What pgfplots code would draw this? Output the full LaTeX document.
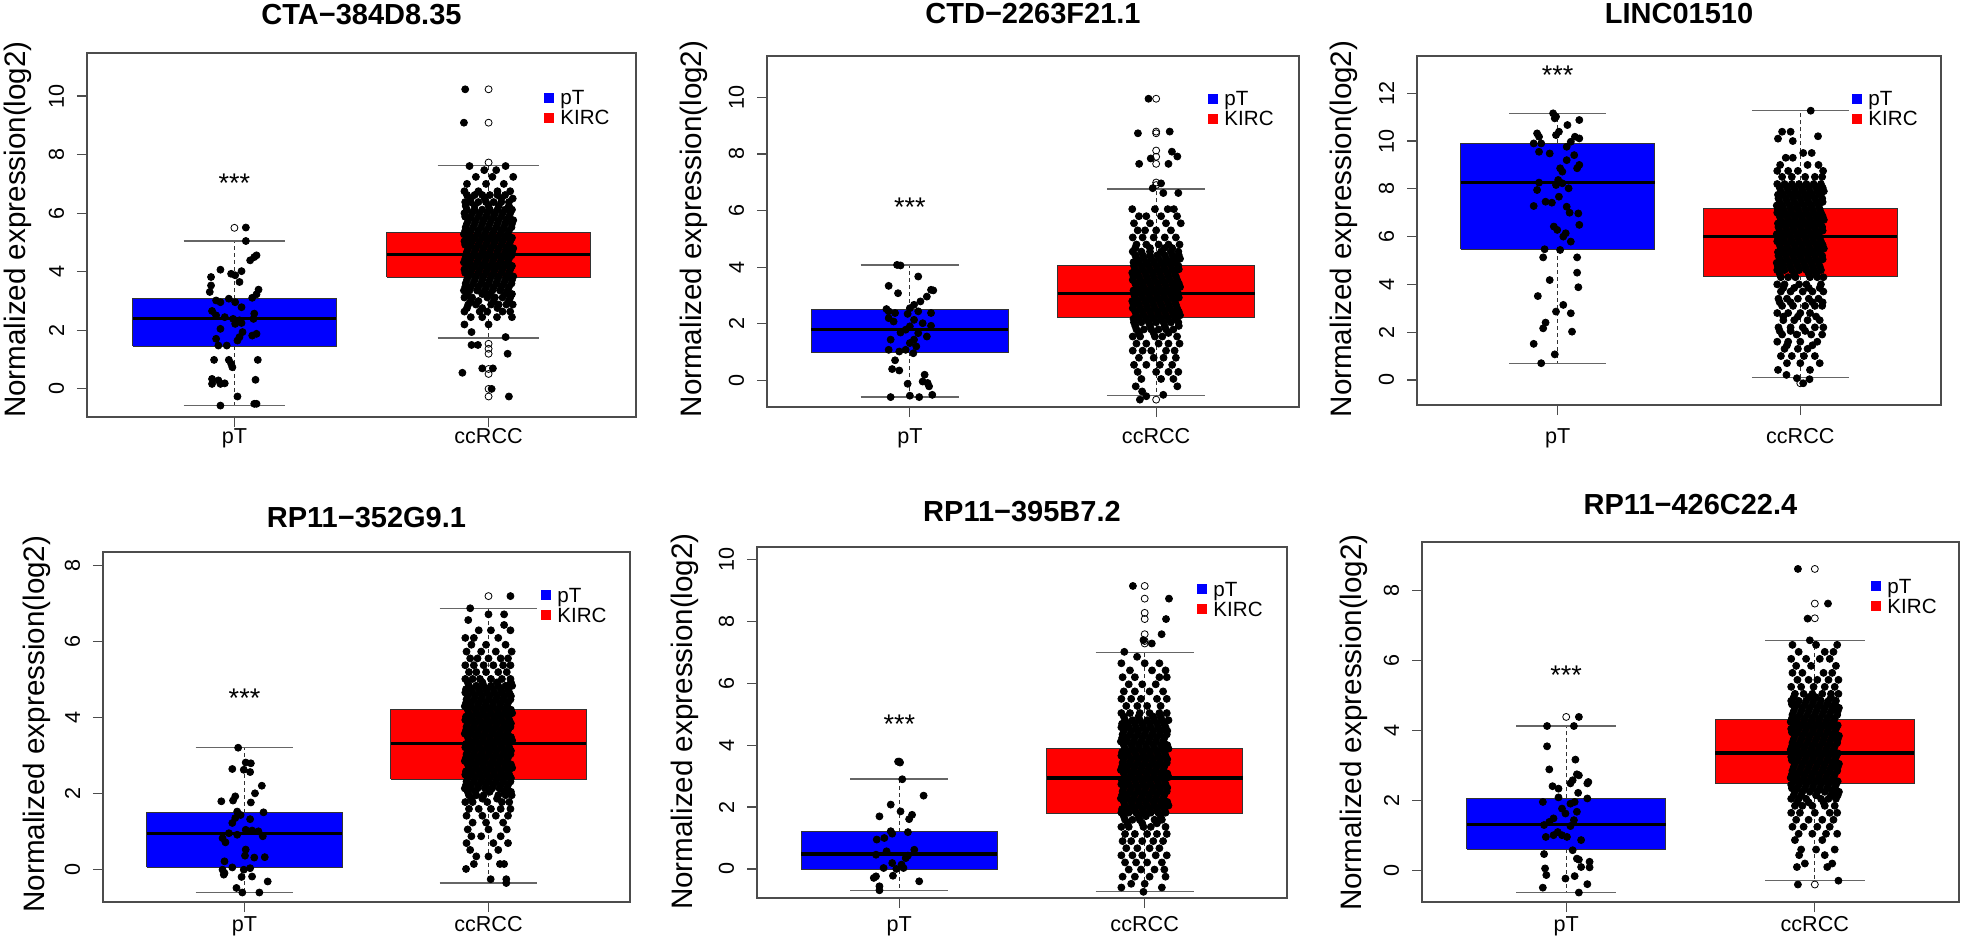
\documentclass[border=0pt]{standalone}
\usepackage{pgfplots}
\pgfplotsset{compat=1.18}
\usepackage{pgfplotstable}
\usepackage{fontspec}
\setmainfont{Liberation Sans}

\newcommand{\tickfont}{\fontsize{10.8}{13}\selectfont}
\newcommand{\legfont}{\fontsize{10.3}{12}\selectfont}
\newcommand{\titfont}{\fontsize{14.5}{17}\selectfont\bfseries}
\newcommand{\labfont}{\fontsize{14.8}{17}\selectfont}
\newcommand{\starfont}{\fontsize{13.5}{16}\selectfont}

\pgfplotsset{
  panel/.style={
    scale only axis, anchor=south west, xmin=0.42, xmax=2.58,
    xtick={1,2}, xticklabels={pT,ccRCC},
    axis line style={draw=black!70, line width=0.6pt},
    every tick/.style={black!70, line width=0.6pt},
    tick align=outside, major tick length=5pt,
    xtick pos=left, ytick pos=left,
    ticklabel style={font=\tickfont},
    /pgf/number format/assume math mode=true,
    yticklabel style={xshift=-6.25pt, inner sep=0pt, rotate=90, anchor=south},
    xticklabel style={inner sep=0pt, anchor=base},
  },
  whisk/.style={black!80, line width=0.5pt, dash pattern=on 2pt off 1.5pt},
  staple/.style={black!60, line width=0.6pt},
  boxst/.style={draw=black!80, line width=0.5pt},
  medst/.style={black, line width=1.6pt},
  dot/.style={only marks, mark=*, mark size=1.75pt, draw=black, fill=black},
  odot/.style={only marks, mark=o, mark size=1.75pt, black, mark options={line width=0.4pt}},
}

\newcommand{\bxpT}[5]{%
  \addplot[whisk] coordinates {(1,#2) (1,#1)};
  \addplot[whisk] coordinates {(1,#4) (1,#5)};
  \addplot[staple] coordinates {(0.8,#1) (1.2,#1)};
  \addplot[staple] coordinates {(0.8,#5) (1.2,#5)};
  \addplot[boxst, fill=blue] coordinates {(0.6,#2) (1.4,#2) (1.4,#4) (0.6,#4) (0.6,#2)};
  \addplot[medst] coordinates {(0.6,#3) (1.4,#3)};
}
\newcommand{\bxcc}[5]{%
  \addplot[whisk] coordinates {(2,#2) (2,#1)};
  \addplot[whisk] coordinates {(2,#4) (2,#5)};
  \addplot[staple] coordinates {(1.8,#1) (2.2,#1)};
  \addplot[staple] coordinates {(1.8,#5) (2.2,#5)};
  \addplot[boxst, fill=red] coordinates {(1.6,#2) (2.4,#2) (2.4,#4) (1.6,#4) (1.6,#2)};
  \addplot[medst] coordinates {(1.6,#3) (2.4,#3)};
}
\newcommand{\jit}[1]{%
  \pgfplotsinvokeforeach{a,b,c,d,e,f,g}{\addplot[dot] table[x=##1,y=y] {#1};}%
}
\newcommand{\mylegend}[3]{%
  \pgfmathsetmacro{\lx}{(#1-4.75)/2}\pgfmathsetmacro{\lya}{(939-#2-4.75)/2}\pgfmathsetmacro{\lyb}{(939-#3-4.75)/2}%
  \fill[blue] (\lx pt,\lya pt) rectangle ++(4.75pt,4.75pt);
  \fill[red] (\lx pt,\lyb pt) rectangle ++(4.75pt,4.75pt);
  \pgfmathsetmacro{\tx}{(#1+11)/2}\pgfmathsetmacro{\tya}{(939-#2-7)/2}\pgfmathsetmacro{\tyb}{(939-#3-7)/2}%
  \node[anchor=base west, inner sep=0pt, font=\legfont] at (\tx pt,\tya pt) {pT};
  \node[anchor=base west, inner sep=0pt, font=\legfont] at (\tx pt,\tyb pt) {KIRC};
}
\newcommand{\mytitle}[3]{%
  \pgfmathsetmacro{\tx}{#1/2}\pgfmathsetmacro{\ty}{(939-#2-10.4)/2}%
  \node[anchor=base, inner sep=0pt, font=\titfont] at (\tx pt,\ty pt) {#3};
}
\newcommand{\mylabel}[2]{%
  \pgfmathsetmacro{\tx}{#1/2}\pgfmathsetmacro{\ty}{(939-#2)/2}%
  \node[anchor=center, inner sep=0pt, rotate=90, font=\labfont] at (\tx pt,\ty pt) {Normalized expression(log2)};
}

% ---------------- data ----------------
\pgfplotstableread{
x y
1.045 5.51
1.045 5.05
1.087 4.56
1.078 4.50
1.062 4.39
0.945 4.07
1.028 4.02
0.987 3.93
1.003 3.88
0.908 3.82
1.02 3.65
0.908 3.53
1.095 3.39
0.903 3.31
1.087 3.23
0.978 3.08
1.07 3.11
0.928 3.02
0.945 2.96
1.003 2.96
0.912 2.66
1.028 2.79
1.078 2.57
0.928 2.51
0.962 2.45
0.995 2.39
1.075 2.39
1.02 2.34
1.028 2.25
1.003 2.22
0.945 2.05
1.032 1.94
1.02 1.77
1.087 1.88
1.07 1.82
0.928 1.71
1.012 1.65
0.937 1.48
0.97 1.48
0.92 0.99
0.978 0.99
1.092 0.99
0.987 0.86
0.992 0.74
0.912 0.34
0.937 0.29
0.945 0.17
0.962 0.19
0.912 0.17
1.083 0.31
1.012 -0.26
0.945 -0.57
1.078 -0.51
1.087 -0.51
}\pTA
\pgfplotstableread{
y a b c d e f g
10.23 1.908 nan nan nan nan nan nan
9.09 1.903 nan nan nan nan nan nan
7.61 1.925 2.067 nan nan nan nan nan
7.47 1.983 2.03 nan nan nan nan nan
7.24 1.95 2.015 2.097 nan nan nan nan
7.0 1.915 1.99 2.06 nan nan nan nan
6.75 1.905 1.96 2.035 2.085 nan nan nan
6.5 1.93 1.985 2.05 2.095 nan nan nan
6.25 1.91 1.945 2.0 2.04 2.08 nan nan
6.0 1.905 1.935 1.965 1.995 2.025 2.055 2.085
5.76 1.92 1.95 1.98 2.01 2.04 2.07 2.097
5.52 1.91 1.94 1.97 2.0 2.03 2.06 2.09
5.28 1.903 1.925 1.955 1.985 2.015 2.045 2.075
5.04 1.905 1.935 1.965 1.995 2.025 2.055 2.085
4.8 1.92 1.95 1.98 2.01 2.04 2.07 2.097
4.56 1.91 1.94 1.97 2.0 2.03 2.06 2.09
4.32 1.903 1.925 1.955 1.985 2.015 2.045 2.075
4.08 1.905 1.935 1.965 1.995 2.025 2.055 2.085
3.84 1.92 1.95 1.98 2.01 2.04 2.07 2.097
3.6 1.91 1.94 1.97 2.0 2.03 2.06 2.09
3.36 1.903 1.925 1.955 1.985 2.015 2.045 2.075
3.12 1.905 1.935 1.995 2.025 2.055 2.085 nan
2.88 1.92 1.95 2.01 2.04 2.07 2.095 nan
2.64 1.905 1.965 1.995 2.055 2.085 nan nan
2.45 1.93 1.975 2.033 2.092 nan nan nan
2.2 1.905 2.0 nan nan nan nan nan
1.94 1.933 nan nan nan nan nan nan
1.77 2.067 nan nan nan nan nan nan
1.5 1.933 1.958 nan nan nan nan nan
1.2 2.075 nan nan nan nan nan nan
0.7 1.975 2.017 nan nan nan nan nan
0.55 1.897 nan nan nan nan nan nan
0.0 2.012 nan nan nan nan nan nan
-0.26 2.08 nan nan nan nan nan nan
6.62 1.915 1.945 1.975 2.005 2.035 2.065 nan
6.38 1.908 1.93 1.96 1.99 2.02 2.05 2.08
6.12 1.915 1.945 1.975 2.005 2.035 2.065 2.092
5.88 1.908 1.93 1.96 1.99 2.02 2.05 2.08
5.64 1.915 1.945 1.975 2.005 2.035 2.065 2.092
5.4 1.908 1.93 1.96 1.99 2.02 2.05 2.08
5.16 1.915 1.945 1.975 2.005 2.035 2.065 2.092
4.92 1.908 1.93 1.96 1.99 2.02 2.05 2.08
4.68 1.915 1.945 1.975 2.005 2.035 2.065 2.092
4.44 1.908 1.93 1.96 1.99 2.02 2.05 2.08
4.2 1.915 1.945 1.975 2.005 2.035 2.065 2.092
3.96 1.908 1.93 1.96 1.99 2.02 2.05 2.08
3.72 1.915 1.945 1.975 2.005 2.035 2.065 2.092
3.48 1.908 1.93 1.96 1.99 2.02 2.05 2.08
3.24 1.915 1.975 2.005 2.065 2.092 nan nan
3.0 1.93 1.96 2.02 2.08 nan nan nan
2.76 1.915 1.975 2.035 nan nan nan nan
}\ccA

\pgfplotstableread{
x y
0.948 4.08
0.962 4.06
1.034 3.67
0.914 3.34
0.952 3.08
1.086 3.2
1.095 3.18
1.069 2.96
1.043 2.79
1.017 2.67
1.0 2.55
0.905 2.52
0.914 2.44
0.94 2.38
0.991 2.35
1.034 2.44
1.086 2.38
0.914 2.2
0.934 2.08
1.017 2.14
1.052 2.02
1.0 1.91
1.086 1.93
0.962 1.69
0.983 1.79
1.034 1.67
1.069 1.55
0.922 1.44
1.017 1.44
1.0 1.32
1.026 1.2
0.914 1.08
0.957 1.02
0.983 1.08
1.014 0.96
0.94 0.71
0.928 0.4
0.957 0.35
1.06 0.2
1.052 -0.04
1.072 -0.09
1.078 -0.21
0.991 -0.12
0.922 -0.59
1.0 -0.54
1.038 -0.59
1.091 -0.51
}\pTB
\pgfplotstableread{
y a b c d e f g
9.95 1.969 nan nan nan nan nan nan
8.79 2.055 nan nan nan nan nan nan
8.73 1.926 nan nan nan nan nan nan
8.08 2.064 nan nan nan nan nan nan
7.91 2.086 nan nan nan nan nan nan
7.84 1.978 nan nan nan nan nan nan
7.65 1.931 2.05 nan nan nan nan nan
6.96 2.02 nan nan nan nan nan nan
6.79 1.986 nan nan nan nan nan nan
6.62 2.029 2.09 nan nan nan nan nan
6.05 1.903 1.995 2.047 2.072 nan nan nan
5.8 1.93 1.96 2.02 2.085 nan nan nan
5.55 1.91 1.975 2.04 2.1 nan nan nan
5.3 1.925 1.955 2.0 2.06 nan nan nan
5.05 1.905 1.945 1.99 2.035 2.08 nan nan
4.8 1.92 1.96 2.01 2.05 2.095 nan nan
4.55 1.905 1.94 1.975 2.02 2.06 2.09 nan
4.3 1.92 1.95 1.98 2.01 2.04 2.07 2.097
4.05 1.91 1.94 1.97 2.0 2.03 2.06 2.09
3.8 1.903 1.925 1.955 1.985 2.015 2.045 2.075
3.55 1.905 1.935 1.965 1.995 2.025 2.055 2.085
3.3 1.92 1.95 1.98 2.01 2.04 2.07 2.097
3.05 1.91 1.94 1.97 2.0 2.03 2.06 2.09
2.8 1.903 1.925 1.955 1.985 2.015 2.045 2.075
2.55 1.905 1.935 1.965 1.995 2.025 2.055 2.085
2.3 1.92 1.95 1.98 2.01 2.04 2.07 2.097
2.05 1.91 1.94 1.97 2.0 2.03 2.06 2.09
1.8 1.92 1.95 1.98 2.01 2.04 2.07 nan
1.55 1.905 1.935 1.995 2.025 2.085 nan nan
1.3 1.92 1.96 2.01 2.05 2.095 nan nan
1.05 1.905 1.945 1.98 2.04 2.075 nan nan
0.8 1.93 1.99 2.03 2.08 nan nan nan
0.55 1.91 1.96 2.015 2.065 nan nan nan
0.3 1.925 2.0 2.05 2.09 nan nan nan
0.05 1.94 2.02 2.07 nan nan nan nan
-0.21 1.917 2.086 nan nan nan nan nan
-0.39 1.943 nan nan nan nan nan nan
-0.51 2.029 nan nan nan nan nan nan
-0.56 1.96 nan nan nan nan nan nan
-0.68 1.934 nan nan nan nan nan nan
4.675 1.915 1.975 2.035 2.065 nan nan nan
4.425 1.915 1.945 1.975 2.005 2.035 2.065 2.092
4.175 1.908 1.93 1.96 1.99 2.02 2.05 2.08
3.925 1.915 1.945 1.975 2.005 2.035 2.065 2.092
3.675 1.908 1.93 1.96 1.99 2.02 2.05 2.08
3.425 1.915 1.945 1.975 2.005 2.035 2.065 2.092
3.175 1.908 1.93 1.96 1.99 2.02 2.05 2.08
2.925 1.915 1.945 1.975 2.005 2.035 2.065 2.092
2.675 1.908 1.93 1.96 1.99 2.02 2.05 2.08
2.425 1.915 1.945 1.975 2.005 2.035 2.065 2.092
2.175 1.908 1.93 1.96 1.99 2.02 2.05 2.08
1.925 1.915 1.975 2.035 2.092 nan nan nan
1.675 1.93 1.99 2.05 nan nan nan nan
}\ccB

\pgfplotstableread{
x y
0.981 11.16
0.993 11.02
0.988 10.95
1.089 10.88
1.04 10.67
1.005 10.39
0.993 10.25
0.915 10.32
0.923 10.18
1.071 10.18
1.089 10.11
1.054 9.97
0.932 9.9
0.901 9.9
1.037 9.76
0.923 9.55
0.967 9.48
1.068 9.41
1.037 9.2
1.089 9.0
1.08 8.86
1.01 8.86
1.019 8.72
1.002 8.37
1.019 8.23
0.993 8.16
0.923 8.26
0.915 7.95
1.045 8.02
1.005 7.67
0.95 7.46
0.976 7.42
0.901 7.28
1.037 7.25
1.049 7.0
1.085 6.97
1.089 6.49
0.984 6.42
0.998 6.28
1.033 6.14
1.023 6.0
1.054 5.79
0.946 5.47
1.01 5.44
0.94 5.13
1.08 5.13
1.08 4.49
0.967 4.18
1.085 3.88
0.918 3.51
1.023 3.14
0.993 2.86
1.054 2.79
0.95 2.4
0.94 2.16
1.059 2.02
0.901 1.51
0.988 1.07
0.932 0.7
}\pTC
\pgfplotstableread{
y a b c d e f g
11.27 2.043 nan nan nan nan nan nan
10.39 1.925 1.96 nan nan nan nan nan
10.2 2.073 nan nan nan nan nan nan
10.1 1.908 nan nan nan nan nan nan
10.0 1.969 nan nan nan nan nan nan
9.5 2.012 2.047 nan nan nan nan nan
9.3 1.94 1.969 nan nan nan nan nan
9.0 1.917 2.03 2.075 nan nan nan nan
8.75 1.905 1.95 1.99 2.094 nan nan nan
8.5 1.925 1.965 2.02 2.06 2.09 nan nan
8.2 1.905 1.935 1.965 1.995 2.025 2.055 2.085
7.9 1.92 1.95 1.98 2.01 2.04 2.07 2.097
7.6 1.91 1.94 1.97 2.0 2.03 2.06 2.09
7.3 1.903 1.925 1.955 1.985 2.015 2.045 2.075
7.0 1.905 1.935 1.965 1.995 2.025 2.055 2.085
6.7 1.92 1.95 1.98 2.01 2.04 2.07 2.097
6.4 1.91 1.94 1.97 2.0 2.03 2.06 2.09
6.1 1.903 1.925 1.955 1.985 2.015 2.045 2.075
5.8 1.905 1.935 1.965 1.995 2.025 2.055 2.085
5.5 1.92 1.95 1.98 2.01 2.04 2.07 2.097
5.2 1.91 1.94 1.97 2.0 2.03 2.06 2.09
4.9 1.903 1.925 1.955 1.985 2.015 2.045 2.075
4.6 1.905 1.935 1.965 1.995 2.025 2.055 2.085
4.3 1.92 1.95 1.98 2.04 2.07 2.095 nan
4.0 1.905 1.935 1.995 2.025 2.085 nan nan
3.7 1.92 1.96 2.01 2.05 2.095 nan nan
3.4 1.91 1.945 1.99 2.035 2.075 nan nan
3.1 1.925 1.97 2.02 2.06 2.09 nan nan
2.8 1.905 1.95 2.0 2.04 nan nan nan
2.5 1.93 1.975 2.03 2.08 nan nan nan
2.2 1.91 1.96 2.01 2.06 2.095 nan nan
1.9 1.925 1.985 2.045 2.09 nan nan nan
1.6 1.905 1.95 2.0 2.07 nan nan nan
1.3 1.935 1.99 2.03 nan nan nan nan
1.0 1.92 1.965 2.015 2.06 nan nan nan
0.7 1.945 2.0 2.08 nan nan nan nan
0.42 1.908 2.04 nan nan nan nan nan
0.21 1.943 nan nan nan nan nan nan
0.07 1.986 nan nan nan nan nan nan
0.03 2.038 nan nan nan nan nan nan
-0.14 2.012 nan nan nan nan nan nan
8.05 1.915 1.945 1.975 2.005 2.035 2.065 2.092
7.75 1.908 1.93 1.96 1.99 2.02 2.05 2.08
7.45 1.915 1.945 1.975 2.005 2.035 2.065 2.092
7.15 1.908 1.93 1.96 1.99 2.02 2.05 2.08
6.85 1.915 1.945 1.975 2.005 2.035 2.065 2.092
6.55 1.908 1.93 1.96 1.99 2.02 2.05 2.08
6.25 1.915 1.945 1.975 2.005 2.035 2.065 2.092
5.95 1.908 1.93 1.96 1.99 2.02 2.05 2.08
5.65 1.915 1.945 1.975 2.005 2.035 2.065 2.092
5.35 1.908 1.93 1.96 1.99 2.02 2.05 2.08
5.05 1.915 1.945 1.975 2.005 2.035 2.065 2.092
4.75 1.908 1.93 1.96 1.99 2.02 2.05 2.08
4.45 1.915 1.975 2.035 2.065 nan nan nan
3.85 1.93 1.975 2.035 2.08 nan nan nan
3.25 1.915 1.96 2.05 2.092 nan nan nan
2.65 1.93 1.99 2.065 nan nan nan nan
2.05 1.915 1.96 2.02 nan nan nan nan
1.45 1.945 2.05 nan nan nan nan nan
}\ccC

\pgfplotstableread{
x y
0.974 3.21
1.005 2.82
1.026 2.8
0.95 2.65
0.997 2.63
1.023 2.57
1.071 2.21
1.043 2.01
0.962 1.93
0.953 1.82
0.905 1.8
1.026 1.77
1.078 1.51
0.97 1.53
0.984 1.44
0.962 1.36
1.023 1.33
0.95 1.23
1.005 1.05
1.031 1.03
0.936 0.96
0.97 0.92
1.057 1.01
1.075 0.88
0.91 0.83
0.922 0.72
1.005 0.53
1.002 0.37
1.083 0.33
1.04 0.32
0.918 0.22
0.95 0.06
0.91 0.0
0.918 -0.09
0.915 -0.13
1.023 0.04
0.997 0.0
1.031 -0.18
0.988 -0.19
1.095 -0.31
0.967 -0.48
0.991 -0.6
1.061 -0.6
}\pTD
\pgfplotstableread{
y a b c d e f g
7.2 2.09 nan nan nan nan nan nan
6.88 1.925 nan nan nan nan nan nan
6.72 2.0 2.064 nan nan nan nan nan
6.57 1.917 nan nan nan nan nan nan
6.44 2.064 nan nan nan nan nan nan
6.3 1.96 2.01 2.09 nan nan nan nan
6.1 1.905 1.94 2.04 nan nan nan nan
5.92 1.93 1.99 2.07 nan nan nan nan
5.74 1.91 1.97 2.03 2.095 nan nan nan
5.56 1.925 1.955 2.0 2.05 2.08 nan nan
5.38 1.905 1.94 1.98 2.02 2.06 2.09 nan
5.2 1.92 1.95 1.99 2.04 2.075 nan nan
5.02 1.905 1.935 1.965 2.01 2.055 2.09 nan
4.84 1.92 1.95 1.98 2.01 2.04 2.07 2.097
4.66 1.905 1.935 1.965 1.995 2.025 2.055 2.085
4.48 1.91 1.94 1.97 2.0 2.03 2.06 2.09
4.3 1.903 1.925 1.955 1.985 2.015 2.045 2.075
4.12 1.92 1.95 1.98 2.01 2.04 2.07 2.097
3.94 1.905 1.935 1.965 1.995 2.025 2.055 2.085
3.76 1.91 1.94 1.97 2.0 2.03 2.06 2.09
3.58 1.903 1.925 1.955 1.985 2.015 2.045 2.075
3.4 1.92 1.95 1.98 2.01 2.04 2.07 2.097
3.22 1.905 1.935 1.965 1.995 2.025 2.055 2.085
3.04 1.91 1.94 1.97 2.0 2.03 2.06 2.09
2.86 1.903 1.925 1.955 1.985 2.015 2.045 2.075
2.68 1.92 1.95 1.98 2.01 2.04 2.07 2.097
2.5 1.905 1.935 1.965 1.995 2.025 2.055 2.085
2.32 1.91 1.94 1.97 2.0 2.03 2.06 2.09
2.14 1.903 1.925 1.955 1.985 2.015 2.045 2.075
1.96 1.92 1.95 1.98 2.04 2.07 2.095 nan
1.78 1.905 1.935 1.995 2.055 2.085 nan nan
1.6 1.92 1.96 2.01 2.05 2.09 nan nan
1.42 1.91 1.975 2.03 2.08 nan nan nan
1.24 1.935 1.99 2.06 nan nan nan nan
1.06 1.915 2.0 2.075 nan nan nan nan
0.88 1.93 1.97 2.05 nan nan nan nan
0.7 1.91 2.02 2.08 nan nan nan nan
0.52 1.925 2.04 nan nan nan nan nan
0.35 1.95 2.0 nan nan nan nan nan
0.15 1.94 2.047 2.064 nan nan nan nan
0.02 1.908 nan nan nan nan nan nan
-0.25 2.009 2.073 nan nan nan nan nan
-0.35 2.073 nan nan nan nan nan nan
4.93 1.915 1.975 2.035 2.092 nan nan nan
4.75 1.908 1.93 1.96 1.99 2.02 2.05 2.08
4.57 1.915 1.945 1.975 2.005 2.035 2.065 2.092
4.39 1.908 1.93 1.96 1.99 2.02 2.05 2.08
4.21 1.915 1.945 1.975 2.005 2.035 2.065 2.092
4.03 1.908 1.93 1.96 1.99 2.02 2.05 2.08
3.85 1.915 1.945 1.975 2.005 2.035 2.065 2.092
3.67 1.908 1.93 1.96 1.99 2.02 2.05 2.08
3.49 1.915 1.945 1.975 2.005 2.035 2.065 2.092
3.31 1.908 1.93 1.96 1.99 2.02 2.05 2.08
3.13 1.915 1.945 1.975 2.005 2.035 2.065 2.092
2.95 1.908 1.93 1.96 1.99 2.02 2.05 2.08
2.77 1.915 1.945 1.975 2.005 2.035 2.065 2.092
2.59 1.908 1.93 1.96 1.99 2.02 2.05 2.08
2.41 1.915 1.945 1.975 2.005 2.035 2.065 2.092
2.23 1.908 1.93 1.96 1.99 2.02 2.05 2.08
2.05 1.915 1.945 2.005 2.065 2.092 nan nan
1.87 1.93 1.975 2.035 nan nan nan nan
}\ccD

\pgfplotstableread{
x y
0.995 3.47
1.003 3.44
1.012 2.9
1.099 2.37
0.965 2.08
1.005 1.86
1.052 1.75
1.04 1.61
0.919 1.7
0.965 1.22
0.971 1.14
1.035 1.19
0.939 1.0
0.908 0.95
0.948 0.57
1.061 0.62
0.905 0.46
1.035 0.43
1.026 0.35
0.971 0.19
1.009 0.14
0.936 0.03
0.988 0.0
1.017 0.03
0.905 -0.24
0.896 -0.29
0.974 -0.22
1.081 -0.4
0.919 -0.56
0.919 -0.69
}\pTE
\pgfplotstableread{
y a b c d e f g
9.15 1.952 nan nan nan nan nan nan
8.74 2.099 nan nan nan nan nan nan
8.08 2.087 nan nan nan nan nan nan
7.59 2.069 nan nan nan nan nan nan
7.4 1.995 nan nan nan nan nan nan
7.29 2.029 nan nan nan nan nan nan
7.02 1.917 nan nan nan nan nan nan
6.86 1.969 nan nan nan nan nan nan
6.65 1.905 2.0 2.06 nan nan nan nan
6.42 1.94 2.03 2.085 nan nan nan nan
6.2 1.91 1.96 2.06 2.09 nan nan nan
5.97 1.935 1.99 2.045 nan nan nan nan
5.74 1.915 1.96 2.02 2.075 nan nan nan
5.5 1.905 1.945 1.985 2.05 2.09 nan nan
5.27 1.925 1.97 2.01 2.065 nan nan nan
5.04 1.905 1.94 1.98 2.02 2.06 2.09 nan
4.81 1.92 1.95 1.98 2.01 2.04 2.07 2.097
4.58 1.905 1.935 1.965 1.995 2.025 2.055 2.085
4.35 1.91 1.94 1.97 2.0 2.03 2.06 2.09
4.12 1.903 1.925 1.955 1.985 2.015 2.045 2.075
3.89 1.92 1.95 1.98 2.01 2.04 2.07 2.097
3.66 1.905 1.935 1.965 1.995 2.025 2.055 2.085
3.43 1.91 1.94 1.97 2.0 2.03 2.06 2.09
3.2 1.903 1.925 1.955 1.985 2.015 2.045 2.075
2.97 1.92 1.95 1.98 2.01 2.04 2.07 2.097
2.74 1.905 1.935 1.965 1.995 2.025 2.055 2.085
2.51 1.91 1.94 1.97 2.0 2.03 2.06 2.09
2.28 1.903 1.925 1.955 1.985 2.015 2.045 2.075
2.05 1.92 1.95 1.98 2.01 2.04 2.07 2.097
1.82 1.905 1.935 1.965 1.995 2.025 2.055 2.085
1.59 1.92 1.95 1.98 2.04 2.07 nan nan
1.36 1.905 1.935 1.995 2.025 2.085 nan nan
1.13 1.92 1.96 2.01 2.05 2.09 nan nan
0.9 1.91 1.945 1.99 2.035 2.075 nan nan
0.67 1.925 1.97 2.02 2.06 nan nan nan
0.44 1.905 1.95 1.99 2.045 2.09 nan nan
0.21 1.92 1.965 2.01 2.07 nan nan nan
-0.02 1.935 1.985 2.04 2.08 nan nan nan
-0.25 1.91 1.96 2.02 2.085 nan nan nan
-0.48 1.945 2.0 nan nan nan nan nan
-0.6 1.905 2.07 nan nan nan nan nan
-0.74 1.995 nan nan nan nan nan nan
4.925 1.915 1.975 2.035 2.065 nan nan nan
4.695 1.908 1.93 1.96 1.99 2.02 2.05 2.08
4.465 1.915 1.945 1.975 2.005 2.035 2.065 2.092
4.235 1.908 1.93 1.96 1.99 2.02 2.05 2.08
4.005 1.915 1.945 1.975 2.005 2.035 2.065 2.092
3.775 1.908 1.93 1.96 1.99 2.02 2.05 2.08
3.545 1.915 1.945 1.975 2.005 2.035 2.065 2.092
3.315 1.908 1.93 1.96 1.99 2.02 2.05 2.08
3.085 1.915 1.945 1.975 2.005 2.035 2.065 2.092
2.855 1.908 1.93 1.96 1.99 2.02 2.05 2.08
2.625 1.915 1.945 1.975 2.005 2.035 2.065 2.092
2.395 1.908 1.93 1.96 1.99 2.02 2.05 2.08
2.165 1.915 1.945 1.975 2.005 2.035 2.065 2.092
1.935 1.908 1.93 1.96 1.99 2.02 2.05 2.08
1.705 1.915 1.975 2.005 2.065 nan nan nan
1.475 1.93 1.99 2.05 nan nan nan nan
}\ccE

\pgfplotstableread{
x y
1.051 4.39
0.923 4.13
1.031 4.13
0.923 3.55
1.037 3.17
0.932 2.89
1.043 2.75
1.051 2.72
1.089 2.53
1.085 2.49
1.026 2.58
1.017 2.49
0.945 2.41
0.969 2.34
1.048 2.22
0.906 1.96
0.969 2.09
1.034 1.96
1.085 2.06
1.017 1.91
0.983 1.77
0.997 1.63
1.043 1.68
0.949 1.49
0.932 1.39
1.031 1.44
1.017 1.27
0.911 1.3
0.966 1.1
0.949 1.01
0.918 0.96
0.983 1.01
1.003 0.96
1.06 0.87
1.026 0.58
0.911 0.47
1.043 0.34
1.051 0.31
1.094 0.25
0.915 0.06
1.06 0.1
1.094 0.09
0.92 -0.13
1.034 -0.16
0.997 -0.23
1.085 -0.39
0.906 -0.49
1.051 -0.63
}\pTF
\pgfplotstableread{
y a b c d e f g
8.62 1.932 nan nan nan nan nan nan
7.63 2.053 nan nan nan nan nan nan
7.2 1.971 nan nan nan nan nan nan
6.58 1.98 nan nan nan nan nan nan
6.45 1.91 2.005 2.09 nan nan nan nan
6.25 1.935 2.04 2.075 nan nan nan nan
6.05 1.905 1.965 2.02 2.06 nan nan nan
5.85 1.925 1.985 2.085 nan nan nan nan
5.65 1.91 1.95 2.035 2.07 nan nan nan
5.45 1.93 1.975 2.01 2.055 2.095 nan nan
5.25 1.905 1.945 1.995 2.04 2.08 nan nan
5.05 1.92 1.955 1.99 2.03 2.065 2.095 nan
4.85 1.905 1.935 1.965 1.995 2.025 2.055 2.085
4.65 1.92 1.95 1.98 2.01 2.04 2.07 2.097
4.45 1.91 1.94 1.97 2.0 2.03 2.06 2.09
4.25 1.903 1.925 1.955 1.985 2.015 2.045 2.075
4.05 1.905 1.935 1.965 1.995 2.025 2.055 2.085
3.85 1.92 1.95 1.98 2.01 2.04 2.07 2.097
3.65 1.91 1.94 1.97 2.0 2.03 2.06 2.09
3.45 1.903 1.925 1.955 1.985 2.015 2.045 2.075
3.25 1.905 1.935 1.965 1.995 2.025 2.055 2.085
3.05 1.92 1.95 1.98 2.01 2.04 2.07 2.097
2.85 1.91 1.94 1.97 2.0 2.03 2.06 2.09
2.65 1.903 1.925 1.955 1.985 2.015 2.045 2.075
2.45 1.905 1.935 1.965 1.995 2.025 2.055 2.085
2.25 1.92 1.95 1.98 2.01 2.04 2.07 2.097
2.05 1.905 1.935 1.965 2.025 2.055 2.085 nan
1.85 1.92 1.95 1.99 2.04 2.08 nan nan
1.65 1.905 1.94 2.0 2.06 2.09 nan nan
1.45 1.925 1.975 2.03 2.075 nan nan nan
1.25 1.91 1.955 2.01 2.06 nan nan nan
1.05 1.935 1.99 2.045 2.09 nan nan nan
0.87 1.92 2.03 nan nan nan nan nan
0.6 1.945 2.005 2.08 nan nan nan nan
0.44 1.937 2.04 nan nan nan nan nan
0.2 1.96 2.07 nan nan nan nan nan
0.1 1.928 2.05 nan nan nan nan nan
-0.29 2.095 nan nan nan nan nan nan
-0.4 1.932 nan nan nan nan nan nan
4.95 1.915 1.975 2.005 2.065 nan nan nan
4.75 1.908 1.93 1.96 1.99 2.02 2.05 2.08
4.55 1.915 1.945 1.975 2.005 2.035 2.065 2.092
4.35 1.908 1.93 1.96 1.99 2.02 2.05 2.08
4.15 1.915 1.945 1.975 2.005 2.035 2.065 2.092
3.95 1.908 1.93 1.96 1.99 2.02 2.05 2.08
3.75 1.915 1.945 1.975 2.005 2.035 2.065 2.092
3.55 1.908 1.93 1.96 1.99 2.02 2.05 2.08
3.35 1.915 1.945 1.975 2.005 2.035 2.065 2.092
3.15 1.908 1.93 1.96 1.99 2.02 2.05 2.08
2.95 1.915 1.945 1.975 2.005 2.035 2.065 2.092
2.75 1.908 1.93 1.96 1.99 2.02 2.05 2.08
2.55 1.915 1.945 1.975 2.005 2.035 2.065 2.092
2.35 1.908 1.93 1.96 1.99 2.02 2.05 2.08
2.15 1.915 1.945 2.005 2.065 2.092 nan nan
1.95 1.93 1.975 2.035 nan nan nan nan
}\ccF

\begin{document}
\begin{tikzpicture}
\useasboundingbox (0,0) rectangle (980.5pt,469.5pt);

% ---------- panel 1 ----------
\begin{axis}[panel, at={(43.5pt,261pt)}, width=274.5pt, height=182pt,
  ymin=-0.96, ymax=11.47, ytick={0,2,...,10}, xticklabel style={yshift=-8pt}]
\bxpT{-0.57}{1.46}{2.39}{3.08}{5.05}
\bxcc{1.74}{3.82}{4.6}{5.34}{7.64}
\addplot[odot] coordinates {(1,5.5) (2,10.23) (2,9.09) (2,7.73) (2,1.54) (2,1.37) (2,1.2) (2,0.68) (2,0.51) (2,0.0) (2,-0.26)};
\addplot[dot] table[x=x,y=y] {\pTA};
\jit{\ccA}
\node[font=\starfont, anchor=base, inner sep=0pt, yshift=-7.75pt] at (axis cs:1,7.24) {***};
\end{axis}

% ---------- panel 2 ----------
\begin{axis}[panel, at={(383.5pt,266pt)}, width=266pt, height=175.5pt,
  ymin=-0.94, ymax=11.46, ytick={0,2,...,10}, xticklabel style={yshift=-13pt}]
\bxpT{-0.59}{1.0}{1.79}{2.49}{4.08}
\bxcc{-0.53}{2.22}{3.06}{4.06}{6.76}
\addplot[odot] coordinates {(2,9.95) (2,8.79) (2,8.73) (2,8.12) (2,7.9) (2,7.65) (2,6.99) (2,6.9) (2,-0.68)};
\addplot[dot] table[x=x,y=y] {\pTB};
\jit{\ccB}
\node[font=\starfont, anchor=base, inner sep=0pt, yshift=-7.75pt] at (axis cs:1,6.32) {***};
\end{axis}

% ---------- panel 3 ----------
\begin{axis}[panel, at={(708.5pt,267pt)}, width=262pt, height=174.5pt,
  ymin=-1.05, ymax=13.56, ytick={0,2,...,12}, xticklabel style={yshift=-14pt}]
\bxpT{0.70}{5.48}{8.26}{9.9}{11.14}
\bxcc{0.1}{4.35}{6.02}{7.18}{11.28}
\addplot[odot] coordinates {(2,-0.14)};
\addplot[dot] table[x=x,y=y] {\pTC};
\jit{\ccC}
\node[font=\starfont, anchor=base, inner sep=0pt, yshift=-7.75pt] at (axis cs:1,13.0) {***};
\end{axis}

% ---------- panel 4 ----------
\begin{axis}[panel, at={(51.5pt,18.5pt)}, width=263.5pt, height=175pt,
  ymin=-0.85, ymax=8.36, ytick={0,2,...,8}, xticklabel style={yshift=-9.5pt}]
\bxpT{-0.6}{0.06}{0.95}{1.50}{3.21}
\bxcc{-0.35}{2.38}{3.33}{4.22}{6.88}
\addplot[odot] coordinates {(2,7.2)};
\addplot[dot] table[x=x,y=y] {\pTD};
\jit{\ccD}
\node[font=\starfont, anchor=base, inner sep=0pt, yshift=-7.75pt] at (axis cs:1,4.68) {***};
\end{axis}

% ---------- panel 5 ----------
\begin{axis}[panel, at={(378.5pt,20.5pt)}, width=265pt, height=175.5pt,
  ymin=-0.94, ymax=10.41, ytick={0,2,...,10}, xticklabel style={yshift=-11.5pt}]
\bxpT{-0.69}{-0.03}{0.48}{1.2}{2.91}
\bxcc{-0.74}{1.78}{2.94}{3.91}{7.01}
\addplot[odot] coordinates {(1,3.47) (2,9.15) (2,8.74) (2,8.28) (2,8.08) (2,7.59) (2,7.37) (2,7.29)};
\addplot[dot] table[x=x,y=y] {\pTE};
\jit{\ccE}
\node[font=\starfont, anchor=base, inner sep=0pt, yshift=-7.75pt] at (axis cs:1,4.87) {***};
\end{axis}

% ---------- panel 6 ----------
\begin{axis}[panel, at={(711pt,18.5pt)}, width=268.5pt, height=180pt,
  ymin=-0.9, ymax=9.39, ytick={0,2,...,8}, xticklabel style={yshift=-9.5pt}]
\bxpT{-0.63}{0.61}{1.32}{2.06}{4.13}
\bxcc{-0.29}{2.48}{3.36}{4.31}{6.58}
\addplot[odot] coordinates {(1,4.39) (2,8.62) (2,7.63) (2,7.21) (2,-0.4)};
\addplot[dot] table[x=x,y=y] {\pTF};
\jit{\ccF}
\node[font=\starfont, anchor=base, inner sep=0pt, yshift=-7.75pt] at (axis cs:1,5.75) {***};
\end{axis}

% ---------- titles, labels, legends ----------
\mytitle{361.5}{14}{CTA−384D8.35}
\mytitle{1033}{13}{CTD−2263F21.1}
\mytitle{1679}{13}{LINC01510}
\mytitle{366.5}{517}{RP11−352G9.1}
\mytitle{1022}{511}{RP11−395B7.2}
\mytitle{1690.5}{504}{RP11−426C22.4}

\mylabel{17.5}{229.5}
\mylabel{694}{229}
\mylabel{1344}{229}
\mylabel{37}{724}
\mylabel{684.5}{721.5}
\mylabel{1354}{722.5}

\mylegend{549}{98}{118}
\mylegend{1213}{99}{119}
\mylegend{1857}{99}{119}
\mylegend{546}{595}{615}
\mylegend{1202}{589}{609}
\mylegend{1876}{586}{606}
\end{tikzpicture}
\end{document}
